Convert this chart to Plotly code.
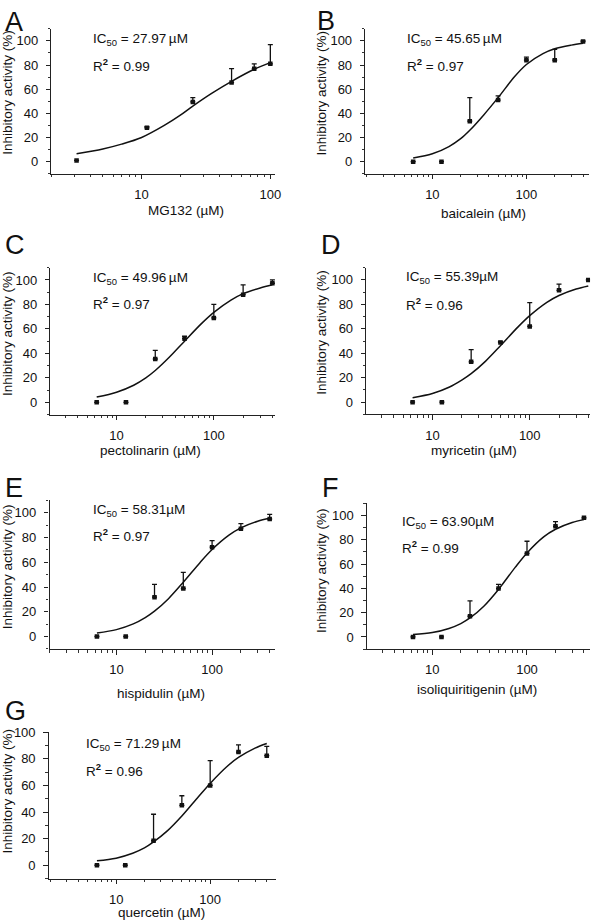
import plotly.graph_objects as go

# ---------------- data ----------------
panel_letters = ["A", "B", "C", "D", "E", "F", "G"]
compounds = ["MG132", "baicalein", "pectolinarin", "myricetin",
             "hispidulin", "isoliquiritigenin", "quercetin"]
ic50_values = ["27.97", "45.65", "49.96", "55.39", "58.31", "63.90", "71.29"]
r2_values = ["0.99", "0.97", "0.97", "0.96", "0.97", "0.99", "0.96"]

conc_A = [3.125, 11, 25, 50, 75, 100]
act_A = [1, 28, 49.5, 65.5, 77, 81]
err_A = [0, 1, 3.5, 11.5, 4, 16]

conc_std = [6.25, 12.5, 25, 50, 100, 200, 400]
act_B = [0, 0, 33.5, 51, 84, 84, 99.5]
err_B = [0, 0, 19.5, 3.5, 2.5, 9, 0.5]
act_C = [0, 0, 35.4, 52, 69, 88, 97.3]
err_C = [0, 0, 7, 2, 11, 8, 2.7]
act_D = [0, 0, 33, 48.8, 62, 91.5, 100]
err_D = [0, 0, 10, 1, 19.5, 5, 0]
act_E = [0, 0, 31.8, 38.8, 72.2, 87.2, 95]
err_E = [0, 0, 10.4, 13.1, 5.3, 4, 3.7]
act_F = [0, 0, 17, 39.8, 68.7, 91, 98]
err_F = [0, 0, 12.7, 3.5, 10, 3.8, 0]
act_G = [0, 0, 18.4, 45, 60, 85, 82.3]
err_G = [0, 0, 19.9, 7.2, 18.6, 5.5, 7]

# fitted curves at selected concentrations
fitx_A = [3.125, 5, 7, 10, 15, 20, 25, 35, 50, 75, 100]
fity_A = [6.5, 10.5, 14.5, 20, 30, 38.5, 46, 56.5, 66.5, 76.5, 82]
fitx_std = [6.25, 10, 15, 20, 25, 35, 50, 75, 100, 150, 200, 300, 400]
fity_B = [3, 6.5, 12.5, 19, 26, 38.5, 53, 70.5, 80.5, 89.5, 93.5, 96.5, 98]
fity_C = [4.3, 8.3, 14, 20, 26, 37, 50, 64.5, 73.5, 83.5, 88.8, 93.5, 96]
fity_D = [3.7, 7.1, 12.4, 18, 23.3, 33.4, 46.2, 61.2, 70.8, 81.7, 87.3, 92.6, 95.1]
fity_E = [2.8, 5.6, 10.2, 15.3, 20.5, 30.6, 43.9, 59.9, 70.3, 81.9, 87.8, 93.2, 95.6]
fity_F = [2.0, 3.6, 7, 11, 15.6, 25.3, 39.1, 57.2, 69.1, 82.3, 88.6, 94.2, 96.5]
fity_G = [3.3, 5.3, 9, 13, 17.5, 25.8, 37, 51.5, 61.5, 74, 81, 88, 91.5]

x_tick_vals = [10, 100]
x_tick_text = ["10", "100"]
y_tick_vals = [0, 20, 40, 60, 80, 100]

points = [
    (conc_A, act_A, err_A, fitx_A, fity_A),
    (conc_std, act_B, err_B, fitx_std, fity_B),
    (conc_std, act_C, err_C, fitx_std, fity_C),
    (conc_std, act_D, err_D, fitx_std, fity_D),
    (conc_std, act_E, err_E, fitx_std, fity_E),
    (conc_std, act_F, err_F, fitx_std, fity_F),
    (conc_std, act_G, err_G, fitx_std, fity_G),
]

# ---------------- layout (pixel geometry) ----------------
W, H = 600, 924
FONT = "Arial, 'Liberation Sans', sans-serif"
INK = "#111111"

def px(x):
    return x / W

def py(y):
    return 1 - y / H

# plot boxes: left, right, top, bottom (pixels), x log range, y range
boxes = [
    dict(l=52, r=278, t=22, b=168, xr=[0.30, 2.038], yr=[-10, 110]),
    dict(l=369, r=595, t=22, b=168, xr=[0.287, 2.666], yr=[-10, 110]),
    dict(l=51, r=278, t=262.7, b=410.7, xr=[0.321, 2.631], yr=[-10, 110]),
    dict(l=370, r=596, t=262.7, b=410.5, xr=[0.32, 2.62], yr=[-10, 110]),
    dict(l=50, r=278, t=497.2, b=646.8, xr=[0.30, 2.66], yr=[-10, 110]),
    dict(l=370.7, r=596, t=500, b=647, xr=[0.31, 2.666], yr=[-10, 110]),
    dict(l=49.3, r=278.3, t=730.7, b=878.2, xr=[0.284, 2.695], yr=[-10, 100]),
]

letter_pos = [(4, 15), (319, 14), (4, 240), (323, 240), (4, 485), (324, 485), (4, 709)]
ic_pos = [(92, 32.5, 58), (409, 33, 58), (92, 274, 298), (408, 273, 299),
          (92, 507, 532), (404, 519, 544), (85, 743, 769)]
xtitle_pos = [(188, 205), (488.5, 208), (152.5, 446.7), (479, 447),
              (163, 692), (482, 688), (163, 912)]
ytitle_pos = [(7.5, 86), (324.5, 87), (7.5, 329), (324.5, 328), (7.5, 564), (324.5, 568), (7.5, 790)]
ic_space = ["\u2009", "\u2009", "\u2009", "", "", "", "\u2009"]

fig = go.Figure()
annotations = []
layout_axes = {}

for i in range(7):
    xs, ys, es, fx, fy = points[i]
    bx = boxes[i]
    n = "" if i == 0 else str(i + 1)
    xa, ya = "x" + n, "y" + n

    fig.add_trace(go.Scatter(
        x=fx, y=fy, mode="lines", line=dict(color=INK, width=1.5, shape="spline", smoothing=0.9),
        xaxis=xa, yaxis=ya, showlegend=False, hoverinfo="skip"))
    fig.add_trace(go.Scatter(
        x=xs, y=ys, mode="markers",
        marker=dict(symbol="square", size=4.5, color=INK),
        error_y=dict(type="data", array=es, arrayminus=[0] * len(es), symmetric=False,
                     color=INK, thickness=1.3, width=2.5),
        xaxis=xa, yaxis=ya, showlegend=False))

    common = dict(showline=True, linecolor="#222222", linewidth=1.2, showgrid=False,
                  zeroline=False, ticks="outside", ticklen=4.5, tickwidth=1.1,
                  tickcolor="#222222", tickfont=dict(family=FONT, size=13, color=INK))
    layout_axes["xaxis" + n] = dict(
        common, type="log", range=bx["xr"], domain=[px(bx["l"]), px(bx["r"])],
        anchor=ya, tickvals=x_tick_vals, ticktext=x_tick_text, ticklabelstandoff=4,
        minor=dict(ticks="outside", ticklen=2.5, tickwidth=1, tickcolor="#333333",
                   dtick="D1", showgrid=False))
    layout_axes["yaxis" + n] = dict(
        common, range=bx["yr"], domain=[py(bx["b"]), py(bx["t"])],
        anchor=xa, tickvals=y_tick_vals, ticklabelstandoff=5,
        minor=dict(ticks="outside", ticklen=2.5, tickwidth=1, tickcolor="#333333",
                   dtick=10, showgrid=False))

    lx, ly = letter_pos[i]
    annotations.append(dict(text=panel_letters[i], x=px(lx), y=py(ly), xref="paper", yref="paper",
                            xanchor="left", yanchor="middle", showarrow=False, borderpad=0,
                            font=dict(family=FONT, size=27, color=INK)))
    ix, iy1, iy2 = ic_pos[i]
    annotations.append(dict(text="IC<sub>50</sub> = " + ic50_values[i] + ic_space[i] + "µM",
                            x=px(ix), y=py(iy1), xref="paper", yref="paper",
                            xanchor="left", yanchor="middle", showarrow=False,
                            font=dict(family=FONT, size=13.5, color=INK)))
    annotations.append(dict(text="R<sup><b>2</b></sup> = " + r2_values[i],
                            x=px(ix), y=py(iy2), xref="paper", yref="paper",
                            xanchor="left", yanchor="middle", showarrow=False,
                            font=dict(family=FONT, size=13.5, color=INK)))
    tx, ty = xtitle_pos[i]
    annotations.append(dict(text=compounds[i] + " (µM)", x=px(tx), y=py(ty),
                            xref="paper", yref="paper", xanchor="center", yanchor="middle",
                            showarrow=False, font=dict(family=FONT, size=13.5, color=INK)))
    yx, yy = ytitle_pos[i]
    annotations.append(dict(text="Inhibitory activity (%)", x=px(yx), y=py(yy), textangle=-90,
                            xref="paper", yref="paper", xanchor="center", yanchor="middle",
                            showarrow=False, borderpad=0,
                            font=dict(family=FONT, size=13.5, color=INK)))

fig.update_layout(
    width=W, height=H, margin=dict(l=0, r=0, t=0, b=0),
    paper_bgcolor="white", plot_bgcolor="white",
    annotations=annotations, **layout_axes)

fig.write_html("out.html", config={"displayModeBar": False},
               post_script="document.body.style.margin='0';document.body.style.padding='0';")
